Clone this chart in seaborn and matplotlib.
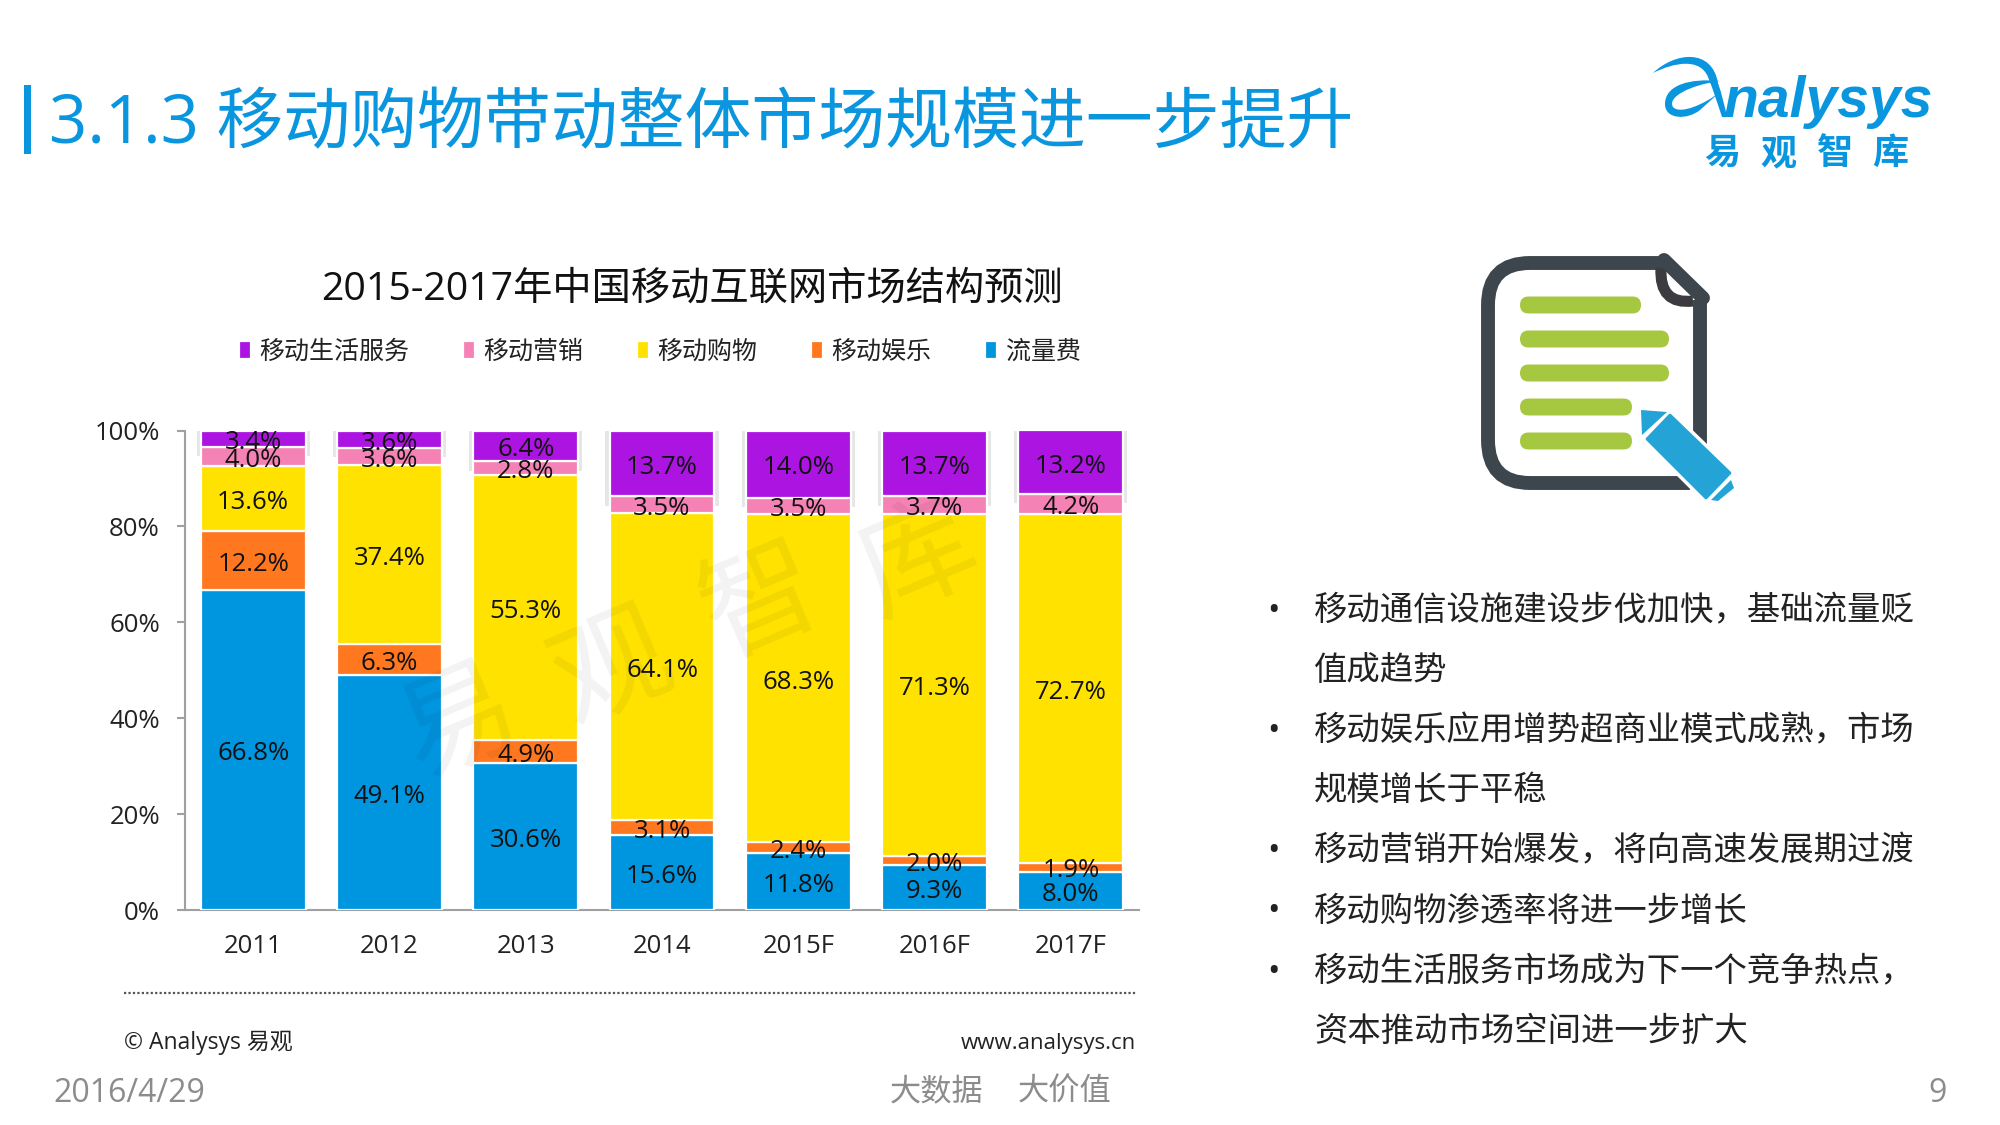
import matplotlib
matplotlib.use("Agg")
import matplotlib.pyplot as plt
import seaborn as sns
from matplotlib.patches import FancyBboxPatch, PathPatch, Polygon, Rectangle
from matplotlib.path import Path

years = ["2011", "2012", "2013", "2014", "2015F", "2016F", "2017F"]

# stacked bottom to top
traffic = [66.8, 49.1, 30.6, 15.6, 11.8, 9.3, 8.0]
entertainment = [12.2, 6.3, 4.9, 3.1, 2.4, 2.0, 1.9]
shopping = [13.6, 37.4, 55.3, 64.1, 68.3, 71.3, 72.7]
marketing = [4.0, 3.6, 2.8, 3.5, 3.5, 3.7, 4.2]
life_service = [3.4, 3.6, 6.4, 13.7, 14.0, 13.7, 13.2]

series_names = ["流量费", "移动娱乐", "移动购物", "移动营销", "移动生活服务"]
series_values = [traffic, entertainment, shopping, marketing, life_service]
series_colors = ["#0095DF", "#FF7820", "#FFE200", "#F582B4", "#AC14E2"]

bullet_lines = [
    ("•", "移动通信设施建设步伐加快，基础流量贬"),
    ("", "值成趋势"),
    ("•", "移动娱乐应用增势超商业模式成熟，市场"),
    ("", "规模增长于平稳"),
    ("•", "移动营销开始爆发，将向高速发展期过渡"),
    ("•", "移动购物渗透率将进一步增长"),
    ("•", "移动生活服务市场成为下一个竞争热点，"),
    ("", "资本推动市场空间进一步扩大"),
]

sns.set_theme(style="white")
plt.rcParams["font.family"] = ["Open Sans", "Noto Sans CJK SC", "DejaVu Sans"]

W, H = 2000, 1125
fig = plt.figure(figsize=(20, 11.25), dpi=100, facecolor="white")

# chart axes, placed in pixels
left, right, top, bottom = 185, 1139, 430.5, 910
ax = fig.add_axes([left / W, 1 - bottom / H, (right - left) / W, (bottom - top) / H])

# faint shadow behind the top segment
shadow_base = [100 - v - 2 for v in life_service]
sns.barplot(x=years, y=[v + 2 for v in life_service], bottom=shadow_base, color="#E6E6E6", saturation=1,
            width=0.83, linewidth=0, ax=ax, zorder=2)

base = [0.0] * len(years)
for name, values, color in zip(series_names, series_values, series_colors):
    sns.barplot(x=years, y=values, bottom=base, color=color, saturation=1, width=0.77,
                edgecolor="white", linewidth=1.6, ax=ax, label=name, zorder=3)
    ax.bar_label(ax.containers[-1], labels=[f"{v:.1f}%" for v in values],
                 label_type="center", padding=-2.8, fontsize=18.5, color="#111111", zorder=5)
    base = [b + v for b, v in zip(base, values)]

ax.set_xlim(-0.5, 6.5)
ax.set_ylim(0, 100)
ax.set_yticks([0, 20, 40, 60, 80, 100])
ax.set_yticklabels(["0%", "20%", "40%", "60%", "80%", "100%"])
ax.tick_params(axis="y", length=6, width=1.5, color="#A0A0A0", pad=12, labelsize=18.5, labelcolor="#222222", left=True)
ax.tick_params(axis="x", length=0, pad=17, labelsize=18.5, labelcolor="#222222")
for side in ["top", "right"]:
    ax.spines[side].set_visible(False)
for side in ["left", "bottom"]:
    ax.spines[side].set_color("#A0A0A0")
    ax.spines[side].set_linewidth(1.5)
ax.set_xlabel("")
ax.set_ylabel("")

# legend is reversed against the stacking order
handles, labels = ax.get_legend_handles_labels()
ax.get_legend().remove()
fig.legend(handles[::-1], labels[::-1], ncol=5, loc="center", bbox_to_anchor=(660 / W, 1 - 352 / H),
           frameon=False, fontsize=18, handlelength=0.46, handleheight=0.72, handletextpad=0.35,
           columnspacing=2.15, labelcolor="#222222", borderpad=0)

# slide furniture, drawn in pixel coordinates
page = fig.add_axes([0, 0, 1, 1], zorder=10)
page.set_xlim(0, W)
page.set_ylim(H, 0)
page.axis("off")
page.patch.set_alpha(0)

BLUE = "#0A96DE"
page.add_patch(Rectangle((24, 85), 7, 69, color=BLUE, lw=0))
page.text(49, 126, "3.1.3 移动购物带动整体市场规模进一步提升", fontsize=48.2, color=BLUE, va="center", ha="left")
page.text(692, 290, "2015-2017年中国移动互联网市场结构预测", fontsize=28.3, color="#111111", va="center", ha="center")

# watermark
for ch, x, y in [("易", 460, 727), ("观", 613, 673), ("智", 762, 607), ("库", 919, 563)]:
    page.text(x, y, ch, fontsize=84, color="black", alpha=0.05, rotation=23, ha="center", va="center",
              rotation_mode="anchor")

# logo
page.text(1723, 117, "nalysys", fontsize=41, color=BLUE, style="italic", fontweight="bold",
          va="baseline", ha="left", family=["Liberation Sans"])
swoosh = Path(
    [(1653, 73), (1675, 52), (1712, 48), (1718, 83), (1722, 95), (1725, 107), (1727, 117),
     (1722, 117), (1718, 105), (1714, 92), (1708, 77), (1700, 58), (1675, 62), (1653, 73)],
    [Path.MOVETO, Path.CURVE4, Path.CURVE4, Path.CURVE4, Path.CURVE4, Path.CURVE4, Path.CURVE4,
     Path.LINETO, Path.CURVE4, Path.CURVE4, Path.CURVE4, Path.CURVE4, Path.CURVE4, Path.CURVE4])
page.add_patch(PathPatch(swoosh, fc=BLUE, ec="none"))
ring = Path(
    [(1720, 81), (1690, 78), (1665, 85), (1665, 104), (1665, 120), (1688, 120), (1700, 110), (1720, 92),
     (1705, 104), (1680, 115), (1673, 107), (1667, 97), (1690, 85), (1720, 81)],
    [Path.MOVETO, Path.CURVE4, Path.CURVE4, Path.CURVE4, Path.CURVE4, Path.CURVE4, Path.CURVE4, Path.LINETO,
     Path.CURVE4, Path.CURVE4, Path.CURVE4, Path.CURVE4, Path.CURVE4, Path.CURVE4])
page.add_patch(PathPatch(ring, fc=BLUE, ec="none"))
for ch, x in zip("易观智库", [1722, 1778, 1835, 1890]):
    page.text(x, 155, ch, fontsize=26, color=BLUE, fontweight="bold", ha="center", va="center")

# document icon
DARK = "#3C464C"
outline = Path(
    [(1665, 263), (1530, 263), (1488, 263), (1488, 305), (1488, 440), (1488, 483), (1530, 483), (1690, 483),
     (1700, 300), (1700, 460)],
    [Path.MOVETO, Path.LINETO, Path.CURVE3, Path.CURVE3, Path.LINETO, Path.CURVE3, Path.CURVE3, Path.LINETO,
     Path.MOVETO, Path.LINETO])
page.add_patch(PathPatch(outline, fc="none", ec=DARK, lw=10, capstyle="butt"))
page.plot([1664, 1703], [260, 298], color=DARK, lw=10, solid_capstyle="round")
curl = Path([(1661, 268), (1659, 305), (1693, 301)], [Path.MOVETO, Path.CURVE3, Path.CURVE3])
page.add_patch(PathPatch(curl, fc="none", ec="#3C3C40", lw=8))
for x_end, y in zip([1641, 1669, 1669, 1632, 1632], [305, 339, 373, 407, 441]):
    page.add_patch(FancyBboxPatch((1520, y - 8.5), x_end - 1520, 17, boxstyle="round,pad=0,rounding_size=8.5",
                                  fc="#A6C840", ec="none"))
PEN = "#23A3D6"
body = [(1670, 415), (1730, 473), (1706, 498), (1647, 439)]
page.add_patch(Polygon(body, fc=PEN, ec="white", lw=7, joinstyle="round", zorder=3))
page.add_patch(Polygon(body, fc=PEN, ec=PEN, lw=2, joinstyle="round", zorder=4))
page.add_patch(Polygon([(1641, 410), (1667, 412), (1642, 435)], fc=PEN, ec="none", zorder=4))
page.add_patch(Polygon([(1731, 480), (1734, 488), (1718, 501), (1711, 500)], fc=PEN, ec="none", zorder=4))

# bullet text
for i, (mark, line) in enumerate(bullet_lines):
    y = 611 + i * 60.2
    if mark:
        page.text(1273, y, mark, fontsize=24, color="#222222", ha="center", va="center")
    page.text(1314, y, line, fontsize=24, color="#222222", ha="left", va="center")

# footer
page.plot([124, 1136], [993, 993], color="#555555", lw=1.6, ls=(0, (1, 1)))
page.text(124, 1043, "© Analysys 易观", fontsize=16.5, color="#222222", ha="left", va="center")
page.text(1136, 1043, "www.analysys.cn", fontsize=16, color="#222222", ha="right", va="center")
page.text(53, 1093, "2016/4/29", fontsize=23, color="#8C8C8C", ha="left", va="center")
page.text(890, 1093, "大数据", fontsize=22.5, color="#8C8C8C", ha="left", va="center")
page.text(1018, 1093, "大价值", fontsize=22.5, color="#8C8C8C", ha="left", va="center")
page.text(1947, 1093, "9", fontsize=23, color="#8C8C8C", ha="right", va="center")

fig.savefig("out.png", dpi=100)
